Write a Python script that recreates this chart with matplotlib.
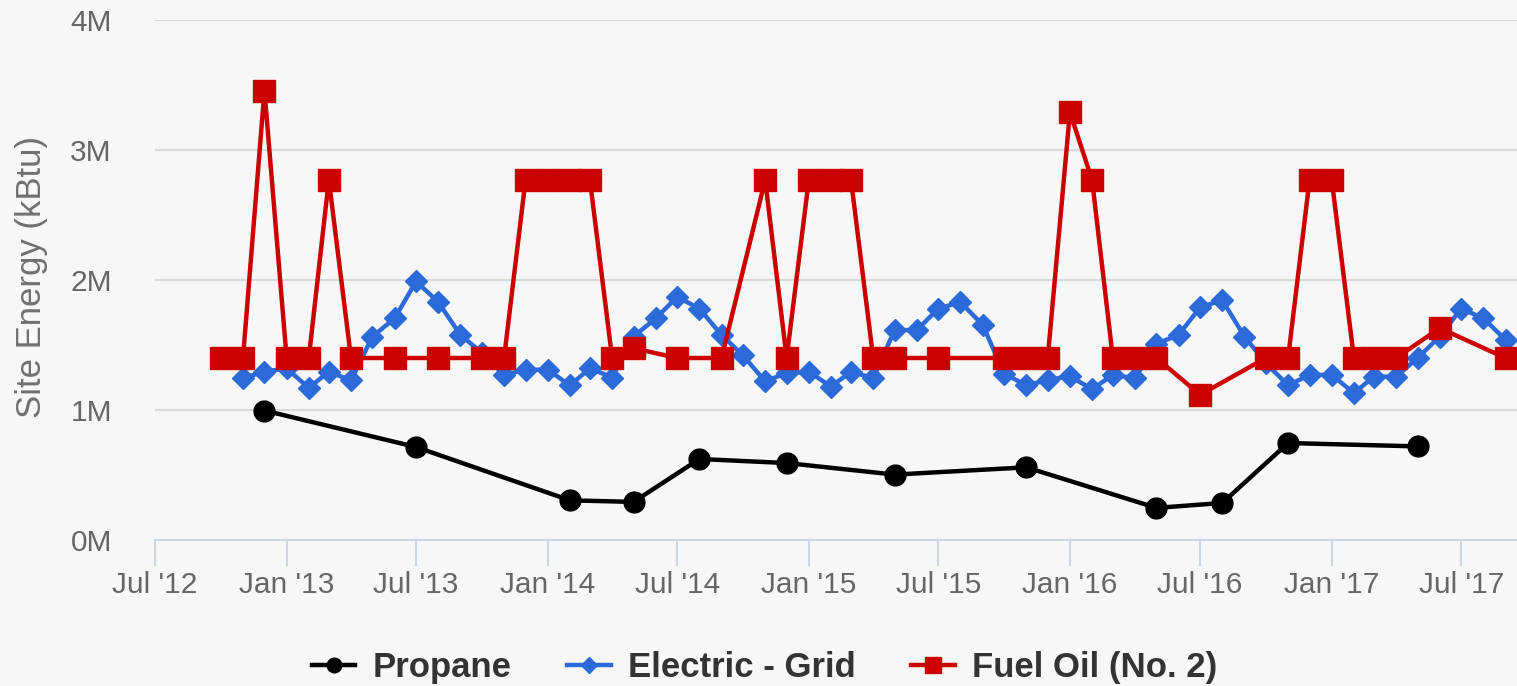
import pandas as pd
import matplotlib.pyplot as plt
import matplotlib.dates as mdates

plt.rcParams['font.family'] = ['Liberation Sans', 'DejaVu Sans']

# Site energy in millions of kBtu
propane_dates = ['2012-12', '2013-07', '2014-02', '2014-05', '2014-08', '2014-12',
                 '2015-05', '2015-11', '2016-05', '2016-08', '2016-11', '2017-05']
propane_vals = [0.996, 0.715, 0.305, 0.293, 0.623, 0.592,
                0.503, 0.559, 0.247, 0.285, 0.746, 0.72]

electric_start = '2012-11'
electric_vals = [1.245, 1.295,
                 1.32, 1.17, 1.295, 1.227, 1.565, 1.705, 1.99, 1.83, 1.577, 1.44, 1.27, 1.31,
                 1.31, 1.19, 1.32, 1.25, 1.565, 1.705, 1.87, 1.78, 1.577, 1.42, 1.22, 1.285,
                 1.295, 1.18, 1.295, 1.245, 1.615, 1.615, 1.78, 1.83, 1.655, 1.28, 1.19, 1.23,
                 1.26, 1.16, 1.27, 1.245, 1.51, 1.577, 1.79, 1.845, 1.565, 1.36, 1.19, 1.27,
                 1.27, 1.13, 1.257, 1.257, 1.40, 1.565, 1.78, 1.705, 1.54]

fuel_dates = ['2012-10', '2012-11', '2012-12', '2013-01', '2013-02', '2013-03', '2013-04',
              '2013-06', '2013-08', '2013-10', '2013-11', '2013-12', '2014-01', '2014-02',
              '2014-03', '2014-04', '2014-05', '2014-07', '2014-09', '2014-11', '2014-12',
              '2015-01', '2015-02', '2015-03', '2015-04', '2015-05', '2015-07', '2015-10',
              '2015-11', '2015-12', '2016-01', '2016-02', '2016-03', '2016-04', '2016-05',
              '2016-07', '2016-10', '2016-11', '2016-12', '2017-01', '2017-02', '2017-03',
              '2017-04', '2017-06', '2017-09']
fuel_vals = [1.40, 1.40, 3.457, 1.40, 1.40, 2.77, 1.40,
             1.40, 1.40, 1.40, 1.40, 2.77, 2.77, 2.77,
             2.77, 1.40, 1.475, 1.40, 1.40, 2.77, 1.40,
             2.77, 2.77, 2.77, 1.40, 1.40, 1.40, 1.40,
             1.40, 1.40, 3.29, 2.77, 1.40, 1.40, 1.40,
             1.117, 1.40, 1.40, 2.77, 2.77, 1.40, 1.40,
             1.40, 1.63, 1.40]

y_ticks = [0, 1, 2, 3, 4]

propane_x = pd.to_datetime(propane_dates)
electric_x = pd.date_range(electric_start, periods=len(electric_vals), freq='MS')
fuel_x = pd.to_datetime(fuel_dates)

bg = '#f7f7f7'
fig = plt.figure(figsize=(15.17, 6.86), dpi=100, facecolor=bg)
ax = fig.add_axes([155 / 1517, 146 / 686, 1362 / 1517, 520 / 686], facecolor=bg)

ax.plot(propane_x, propane_vals, color='black', lw=3.2, marker='o', ms=15,
        label='Propane', zorder=3)
ax.plot(electric_x, electric_vals, color='#2b6ad8', lw=3.2, marker='D', ms=11.5,
        label='Electric - Grid', zorder=4)
ax.plot(fuel_x, fuel_vals, color='#cc0000', lw=3.2, marker='s', ms=16,
        label='Fuel Oil (No. 2)', zorder=5)

ax.set_ylim(0, 4)
ax.set_yticks(y_ticks)
ax.set_yticklabels([f'{v}M' for v in y_ticks])
ax.set_xlim(pd.Timestamp('2012-07-01'), pd.Timestamp('2017-09-17'))
ax.xaxis.set_major_locator(mdates.MonthLocator(bymonth=[1, 7]))
ax.xaxis.set_major_formatter(mdates.DateFormatter("%b '%y"))

# horizontal gridlines only
ax.grid(axis='y', color='#d9d9d9', lw=1.5, zorder=0)
ax.set_axisbelow(True)
for s in ['top', 'right', 'left']:
    ax.spines[s].set_visible(False)
ax.spines['bottom'].set_color('#ccd6eb')
ax.spines['bottom'].set_linewidth(1.5)

ax.tick_params(axis='y', length=0, pad=31, labelsize=21.5, labelcolor='#666666')
ax.tick_params(axis='x', length=19, width=1.5, color='#ccd6eb', pad=3,
               labelsize=21.5, labelcolor='#666666')

ax.set_ylabel('Site Energy (kBtu)', fontsize=25, color='#707070', va='center')
ax.yaxis.set_label_coords(-0.0905, 0.505)

fig.legend(loc='center', bbox_to_anchor=(0.504, 0.027), ncol=3, frameon=False,
           prop={'weight': 'bold', 'size': 25}, handlelength=1.25,
           handletextpad=0.5, columnspacing=1.6, markerscale=0.7,
           labelcolor='#333333')

fig.savefig('out.png', dpi=100, facecolor=bg)
